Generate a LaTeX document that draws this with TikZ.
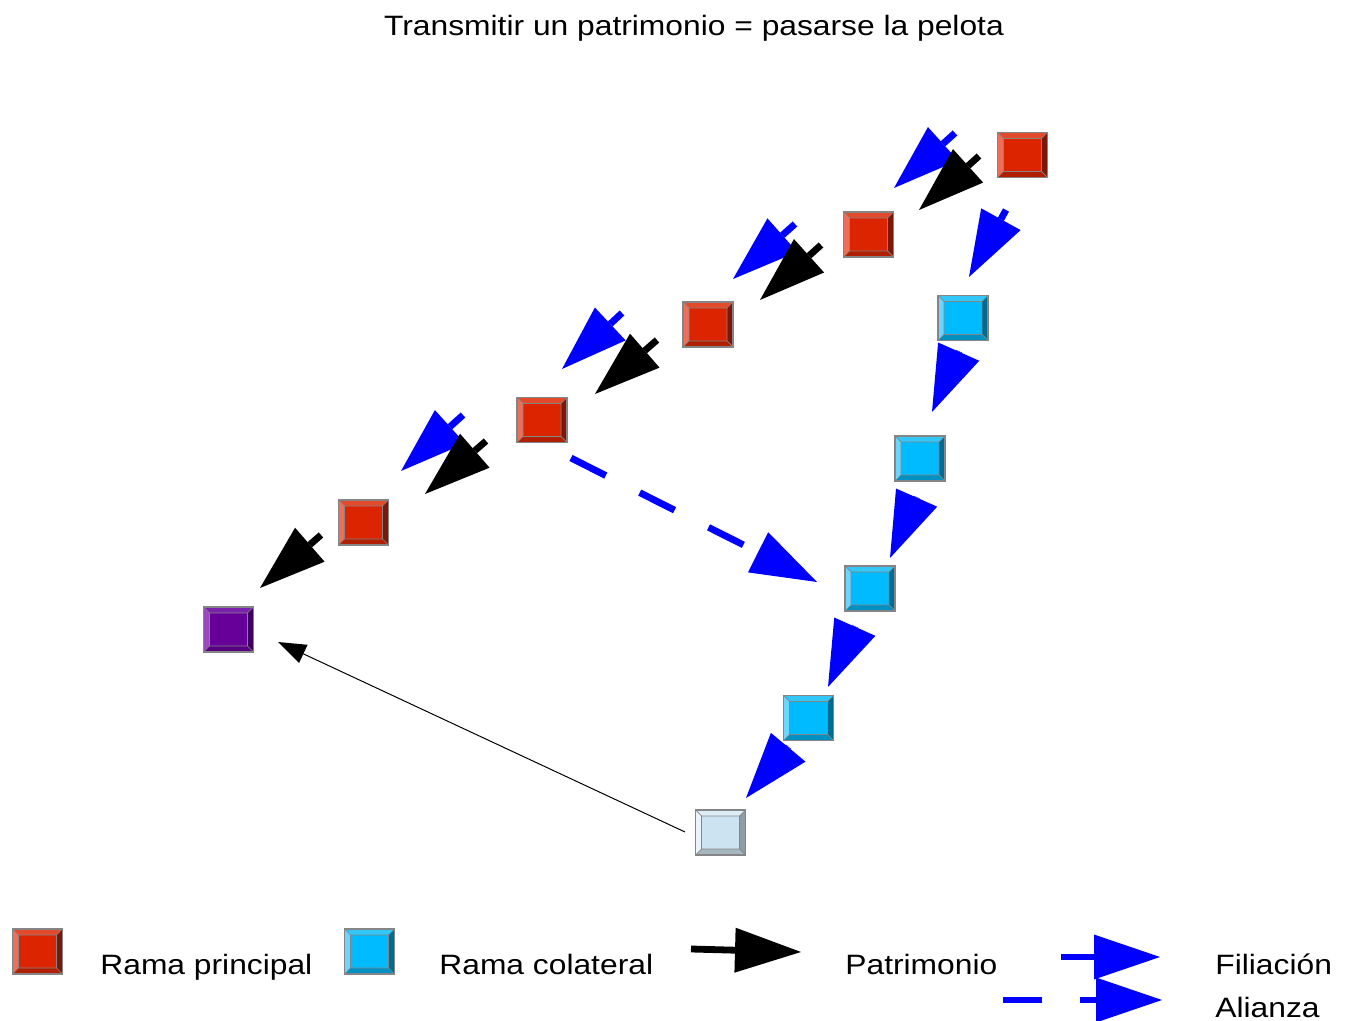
\documentclass[tikz,border=0pt]{standalone}
\usepackage{fontspec}
\setmainfont{Liberation Sans}[FakeStretch=1.135]
\usetikzlibrary{arrows.meta,backgrounds}

\definecolor{bordergray}{HTML}{858585}
\definecolor{redc}{HTML}{DC2400}
\definecolor{redtop}{HTML}{E34A2C}
\definecolor{redleft}{HTML}{EE6E58}
\definecolor{redright}{HTML}{7A180A}
\definecolor{redbot}{HTML}{B01F00}
\definecolor{cyanc}{HTML}{00BBFF}
\definecolor{cyantop}{HTML}{33C6F8}
\definecolor{cyanleft}{HTML}{6AD6FF}
\definecolor{cyanright}{HTML}{006C92}
\definecolor{cyanbot}{HTML}{0090C2}
\definecolor{purc}{HTML}{660099}
\definecolor{purtop}{HTML}{7B22AC}
\definecolor{purleft}{HTML}{9A48BE}
\definecolor{purright}{HTML}{3C005E}
\definecolor{purbot}{HTML}{560082}
\definecolor{lightc}{HTML}{CCE4F2}
\definecolor{lighttop}{HTML}{DDEEF8}
\definecolor{lightleft}{HTML}{EAF4FB}
\definecolor{lightright}{HTML}{8E9CA6}
\definecolor{lightbot}{HTML}{A8B6BF}

% bevelled face: top, left, right and bottom bands around the centre
\newcommand\bevelfill[4]{%
  \begin{scope}[shift={(path picture bounding box.center)}]
    \fill[#1] (-25,-22.5) -- (25,-22.5) -- (19,-16.5) -- (-19,-16.5) -- cycle;
    \fill[#2] (-25,-22.5) -- (-19,-16.5) -- (-19,16.5) -- (-25,22.5) -- cycle;
    \fill[#3] (25,-22.5) -- (25,22.5) -- (19,16.5) -- (19,-16.5) -- cycle;
    \fill[#4] (-25,22.5) -- (-19,16.5) -- (19,16.5) -- (25,22.5) -- cycle;
    \draw[bordergray, line width=0.35pt] (-19,-16.5) rectangle (19,16.5)
      (-25,-22.5) -- (-19,-16.5) (25,-22.5) -- (19,-16.5)
      (25,22.5) -- (19,16.5) (-25,22.5) -- (-19,16.5);
  \end{scope}}

\tikzset{
  bevbox/.style n args={5}{shape=rectangle, minimum width=25pt,
    minimum height=22.5pt, inner sep=0pt, draw=bordergray, line width=0.6pt,
    fill=#1, path picture={\bevelfill{#2}{#3}{#4}{#5}}},
  mainnode/.style={bevbox={redc}{redtop}{redleft}{redright}{redbot}},
  sidenode/.style={bevbox={cyanc}{cyantop}{cyanleft}{cyanright}{cyanbot}},
  heirnode/.style={bevbox={purc}{purtop}{purleft}{purright}{purbot}},
  startnode/.style={bevbox={lightc}{lighttop}{lightleft}{lightright}{lightbot}},
  bigtip/.style={-{Triangle[length=33pt,width=22.5pt,line width=0pt]}},
  patri/.style={bigtip, draw=black, line width=3.4pt},
  filia/.style={bigtip, draw=blue, line width=3.4pt},
  alian/.style={filia, dash pattern=on 19.5pt off 19pt},
  thinarrow/.style={-{Triangle[length=14pt,width=10pt,line width=0pt]},
    draw=black, line width=0.5pt},
  label/.style={font=\fontsize{14pt}{16pt}\selectfont, inner sep=0pt},
}

\begin{document}
\begin{tikzpicture}[x=0.5pt, y=-0.5pt]
  \useasboundingbox (0,0) rectangle (1351,1021);

  \node[label, anchor=base] (title) at (694,36)
    {Transmitir un patrimonio = pasarse la pelota};

  % main line
  \node[mainnode] (R1) at (1022.5,155) {};
  \node[mainnode] (R2) at (868.5,234.5) {};
  \node[mainnode] (R3) at (708,324.5) {};
  \node[mainnode] (R4) at (542,420) {};
  \node[mainnode] (R5) at (363.5,522.5) {};
  \node[heirnode] (P) at (228.5,629.5) {};
  % collateral line
  \node[sidenode] (C1) at (963,318) {};
  \node[sidenode] (C2) at (920,458.5) {};
  \node[sidenode] (C3) at (870,588.5) {};
  \node[sidenode] (C4) at (808.5,718) {};
  \node[startnode] (L) at (720.5,832.5) {};

  % legend
  \node[mainnode] (kR) at (37.5,951.5) {};
  \node[label, anchor=base west] (kRt) at (100,974) {Rama principal};
  \node[sidenode] (kC) at (369.5,951.5) {};
  \node[label, anchor=base west] (kCt) at (439,974) {Rama colateral};
  \node[label, anchor=base west] (kPt) at (845,974) {Patrimonio};
  \node[label, anchor=base west] (kFt) at (1215,974) {Filiación};
  \node[label, anchor=base west] (kAt) at (1215,1017) {Alianza};

  % connector ends
  \coordinate (f1s) at (955,133);  \coordinate (f1t) at (894,188);
  \coordinate (p1s) at (979,156);  \coordinate (p1t) at (919,210);
  \coordinate (f2s) at (795,224);  \coordinate (f2t) at (733,279);
  \coordinate (p2s) at (821,245);  \coordinate (p2t) at (760,300);
  \coordinate (f3s) at (622,313);  \coordinate (f3t) at (562,369);
  \coordinate (p3s) at (657,340);  \coordinate (p3t) at (595,394);
  \coordinate (f4s) at (463,415);  \coordinate (f4t) at (401,471);
  \coordinate (p4s) at (486,441);  \coordinate (p4t) at (425,494);
  \coordinate (p5s) at (321,535);  \coordinate (p5t) at (260,588);
  \coordinate (c1s) at (1006,210); \coordinate (c1t) at (969,277);
  \coordinate (c2s) at (958.9,351.2); \coordinate (c2t) at (932,412);
  \coordinate (c3s) at (916.8,497.2); \coordinate (c3t) at (890,558);
  \coordinate (c4s) at (855,626.3);   \coordinate (c4t) at (828,687);
  \coordinate (c5s) at (788.6,746.8); \coordinate (c5t) at (746,798);
  \coordinate (as) at (571,458);   \coordinate (at) at (817,582);
  \coordinate (hs) at (685,832);   \coordinate (ht) at (278,642);
  \coordinate (kPs) at (691,949);  \coordinate (kPe) at (801,952);
  \coordinate (kFs) at (1061,957); \coordinate (kFe) at (1160,957);
  \coordinate (kAs) at (1003,1000);\coordinate (kAe) at (1162,1000);

  \begin{pgfonlayer}{background}
    \draw[filia] (f1s) -- (f1t);
    \draw[patri] (p1s) -- (p1t);
    \draw[filia] (f2s) -- (f2t);
    \draw[patri] (p2s) -- (p2t);
    \draw[filia] (f3s) -- (f3t);
    \draw[patri] (p3s) -- (p3t);
    \draw[filia] (f4s) -- (f4t);
    \draw[patri] (p4s) -- (p4t);
    \draw[patri] (p5s) -- (p5t);
    \draw[filia] (c1s) -- (c1t);
    \draw[filia] (c2s) -- (c2t);
    \draw[filia] (c3s) -- (c3t);
    \draw[filia] (c4s) -- (c4t);
    \draw[filia] (c5s) -- (c5t);
    \draw[alian] (as) -- (at);
    \draw[thinarrow] (hs) -- (ht);
    \draw[patri] (kPs) -- (kPe);
    \draw[filia] (kFs) -- (kFe);
    \draw[alian] (kAs) -- (kAe);
  \end{pgfonlayer}
\end{tikzpicture}
\end{document}
